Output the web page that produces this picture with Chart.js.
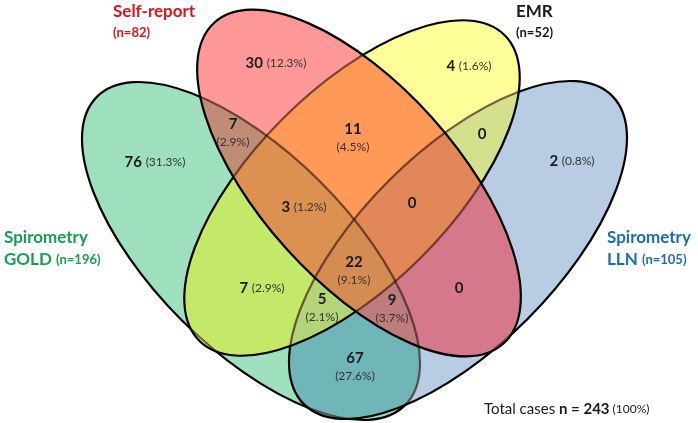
<!DOCTYPE html>
<html>
<head>
<meta charset="utf-8">
<script src="https://cdn.jsdelivr.net/npm/chart.js@4.4.1/dist/chart.umd.min.js"></script>
<style>
  html, body { margin: 0; padding: 0; background: #fff; }
  #wrap { width: 698px; height: 423px; }
</style>
</head>
<body>
<div id="wrap"><canvas id="venn" width="698" height="423"></canvas></div>
<script>
// --- data -------------------------------------------------------------
// sets in drawing order: G = Spirometry GOLD, B = Spirometry LLN, Y = EMR, R = Self-report
const setKeys = ["G", "B", "Y", "R"]
const setNames = ["Spirometry GOLD", "Spirometry LLN", "EMR", "Self-report"]
const setTotals = [196, 105, 52, 82]

const regionKeys = ["G", "R", "Y", "B", "GR", "GY", "GB", "RY", "YB", "RB", "GRY", "RYB", "GRB", "GYB", "GRYB"]
const regionCounts = [76, 30, 4, 2, 7, 7, 67, 11, 0, 0, 3, 0, 9, 5, 22]
const regionPercents = ["31.3%", "12.3%", "1.6%", "0.8%", "2.9%", "2.9%", "27.6%", "4.5%", null, null, "1.2%", null, "3.7%", "2.1%", "9.1%"]

const totalCases = 243

// --- layout (data units == pixels) ------------------------------------
const ellipses = {
  G: { cx: 251, cy: 251, a: 218, b: 98, angle: 45 },
  B: { cx: 458, cy: 250, a: 218, b: 98, angle: -45 },
  Y: { cx: 352, cy: 188, a: 216, b: 98, angle: -45 },
  R: { cx: 359, cy: 183, a: 216, b: 98, angle: 48 }
}

const regionColors = {
  G: "rgb(158,224,189)", R: "rgb(255,153,153)", Y: "rgb(255,255,153)", B: "rgb(184,204,228)",
  GR: "rgb(192,140,118)", GY: "rgb(196,232,104)", GB: "rgb(112,182,184)", RY: "rgb(255,153,88)",
  YB: "rgb(212,224,140)", RB: "rgb(214,120,140)", GRY: "rgb(220,145,80)", RYB: "rgb(226,136,88)",
  GRB: "rgb(190,124,124)", GYB: "rgb(180,212,122)", GRYB: "rgb(212,140,82)"
}

// label anchor per region: [x, y, stacked?]
const labelPos = {
  G: [155, 162, false], R: [276, 63, false], Y: [469, 66, false], B: [572, 161, false],
  GR: [233, 124, true], GY: [262, 288, false], GB: [355, 358, true], RY: [353, 129, true],
  YB: [482, 134, false], RB: [459, 288, false], GRY: [304, 207, false], RYB: [412, 203, false],
  GRB: [392, 300, true], GYB: [322, 299, true], GRYB: [354, 262, true]
}

const FONT = "Lato, 'Open Sans', sans-serif"

function ellipsePath(ctx, e, sx, sy) {
  const cx = sx.getPixelForValue(e.cx)
  const cy = sy.getPixelForValue(e.cy)
  const rx = Math.abs(sx.getPixelForValue(e.cx + e.a) - cx)
  const ry = Math.abs(sy.getPixelForValue(e.cy + e.b) - cy)
  ctx.ellipse(cx, cy, rx, ry, e.angle * Math.PI / 180, 0, Math.PI * 2)
}

function clipInside(ctx, e, sx, sy) {
  ctx.beginPath()
  ellipsePath(ctx, e, sx, sy)
  ctx.clip()
}

function clipOutside(ctx, e, sx, sy, w, h) {
  ctx.beginPath()
  ctx.rect(-10, -10, w + 20, h + 20)
  ellipsePath(ctx, e, sx, sy)
  ctx.clip("evenodd")
}

// draw a list of [text, font, color] runs centred (or left aligned) at x
function drawRuns(ctx, x, y, runs, align) {
  let total = 0
  runs.forEach(r => { ctx.font = r[1]; total += ctx.measureText(r[0]).width })
  let cur = align === "left" ? x : x - total / 2
  ctx.textBaseline = "middle"
  ctx.textAlign = "left"
  runs.forEach(r => {
    ctx.font = r[1]
    ctx.fillStyle = r[2] || "#1a1a1a"
    ctx.fillText(r[0], cur, y)
    cur += ctx.measureText(r[0]).width
  })
}

const vennPlugin = {
  id: "venn",
  beforeDatasetsDraw(chart) {
    const ctx = chart.ctx
    const sx = chart.scales.x
    const sy = chart.scales.y
    const w = chart.width
    const h = chart.height

    // fill each region
    regionKeys.forEach(key => {
      ctx.save()
      setKeys.forEach(s => {
        if (key.includes(s)) clipInside(ctx, ellipses[s], sx, sy)
        else clipOutside(ctx, ellipses[s], sx, sy, w, h)
      })
      ctx.fillStyle = regionColors[key]
      ctx.fillRect(0, 0, w, h)
      ctx.restore()
    })

    // outlines: black outside later sets, tinted where a later set covers them
    ctx.lineWidth = 2.2
    setKeys.forEach((s, i) => {
      const later = setKeys.slice(i + 1)
      ctx.save()
      later.forEach(l => clipOutside(ctx, ellipses[l], sx, sy, w, h))
      ctx.beginPath()
      ellipsePath(ctx, ellipses[s], sx, sy)
      ctx.strokeStyle = "#000"
      ctx.stroke()
      ctx.restore()

      if (later.length) {
        ctx.save()
        ctx.beginPath()
        later.forEach(l => ellipsePath(ctx, ellipses[l], sx, sy))
        ctx.clip()
        ctx.beginPath()
        ellipsePath(ctx, ellipses[s], sx, sy)
        ctx.strokeStyle = "rgba(40,0,0,0.6)"
        ctx.stroke()
        ctx.restore()
      }
    })
  },
  afterDatasetsDraw(chart) {
    const ctx = chart.ctx
    const meta = chart.getDatasetMeta(0)
    const numFont = "bold 15px " + FONT
    const pctFont = "12px " + FONT

    meta.data.forEach((pt, i) => {
      const key = regionKeys[i]
      const stacked = labelPos[key][2]
      const num = String(regionCounts[i])
      const pct = regionPercents[i]
      if (!pct) {
        drawRuns(ctx, pt.x, pt.y, [[num, numFont]])
      } else if (stacked) {
        drawRuns(ctx, pt.x, pt.y, [[num, numFont]])
        drawRuns(ctx, pt.x, pt.y + 18, [["(" + pct + ")", pctFont, "#333"]])
      } else {
        drawRuns(ctx, pt.x, pt.y, [[num + " ", numFont], ["(" + pct + ")", pctFont, "#333"]])
      }
    })

    const sx = chart.scales.x
    const sy = chart.scales.y
    const px = v => sx.getPixelForValue(v)
    const py = v => sy.getPixelForValue(v)
    const big = "bold 17px " + FONT
    const small = "bold 13px " + FONT

    // set titles
    const red = "#e0141e", green = "#17a050", blue = "#1b6db3"
    drawRuns(ctx, px(113), py(12), [[setNames[3], big, red]], "left")
    drawRuns(ctx, px(113), py(33), [["(n=" + setTotals[3] + ")", small, red]], "left")
    drawRuns(ctx, px(516), py(12), [[setNames[2], big, "#1a1a1a"]], "left")
    drawRuns(ctx, px(516), py(33), [["(n=" + setTotals[2] + ")", small, "#1a1a1a"]], "left")

    const gold = setNames[0].split(" ")
    drawRuns(ctx, px(4), py(238), [[gold[0], big, green]], "left")
    drawRuns(ctx, px(4), py(260), [[gold[1] + " ", big, green], ["(n=" + setTotals[0] + ")", small, green]], "left")
    const lln = setNames[1].split(" ")
    drawRuns(ctx, px(607), py(238), [[lln[0], big, blue]], "left")
    drawRuns(ctx, px(607), py(260), [[lln[1] + " ", big, blue], ["(n=" + setTotals[1] + ")", small, blue]], "left")

    drawRuns(ctx, px(484), py(409), [
      ["Total cases ", "15px " + FONT, "#1a1a1a"],
      ["n = " + totalCases, "bold 15px " + FONT, "#1a1a1a"],
      [" (100%)", "12px " + FONT, "#1a1a1a"]
    ], "left")
  }
}

const points = regionKeys.map(k => ({ x: labelPos[k][0], y: labelPos[k][1] }))

new Chart(document.getElementById("venn"), {
  type: "scatter",
  data: {
    datasets: [{ label: "regions", data: points, pointRadius: 0, pointHoverRadius: 0 }]
  },
  options: {
    responsive: false,
    animation: false,
    layout: { padding: 0 },
    plugins: { legend: { display: false }, tooltip: { enabled: false } },
    scales: {
      x: { type: "linear", min: 0, max: 698, display: false },
      y: { type: "linear", min: 0, max: 423, reverse: true, display: false }
    }
  },
  plugins: [vennPlugin]
})
</script>
</body>
</html>
